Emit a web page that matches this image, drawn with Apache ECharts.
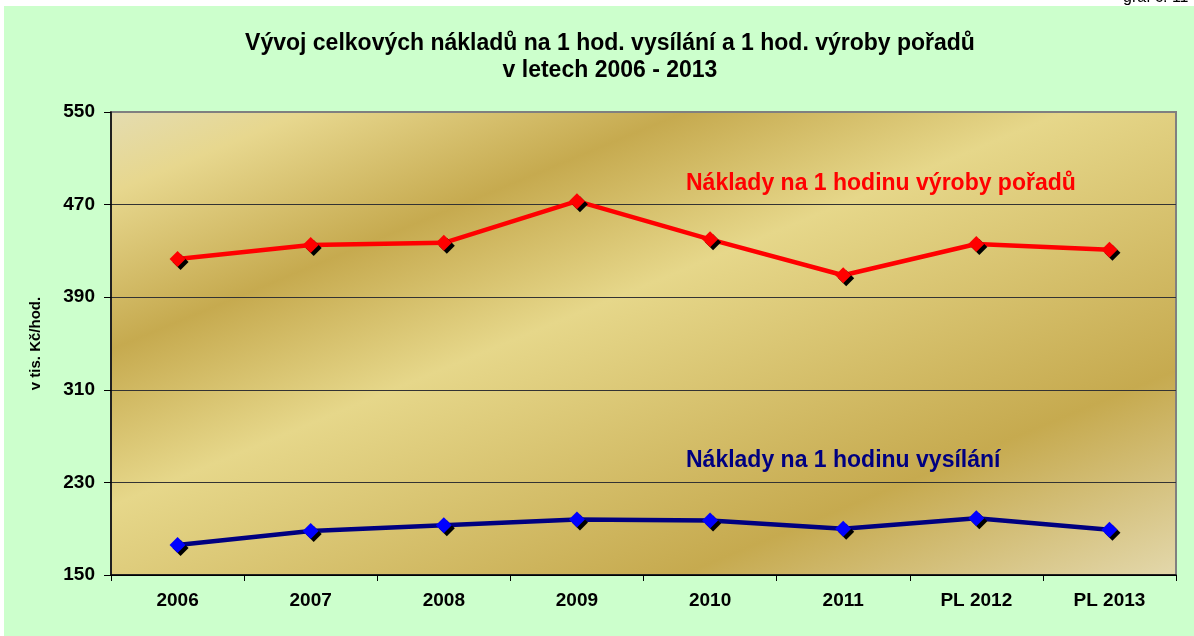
<!DOCTYPE html>
<html>
<head>
<meta charset="utf-8">
<title>Vývoj celkových nákladů</title>
<script src="https://cdn.jsdelivr.net/npm/echarts@6/dist/echarts.min.js"></script>
<style>
  html, body { margin: 0; padding: 0; background: #fff; }
  #chart { width: 1194px; height: 636px; }
</style>
</head>
<body>
<div id="chart"></div>
<script>
// data
const years = ['2006', '2007', '2008', '2009', '2010', '2011', 'PL 2012', 'PL 2013'];
const vyroba = [423, 435, 437, 473, 440, 409, 436, 431];   // náklady na 1 hodinu výroby pořadů
const vysilani = [176, 188, 193, 198, 197, 190, 199, 189]; // náklady na 1 hodinu vysílání
const yTicks = [150, 230, 310, 390, 470, 550];

const FONT = '"Liberation Sans", Arial, sans-serif';

const chart = echarts.init(document.getElementById('chart'));

// zlatý přechod pozadí grafu (diagonální pruhy)
const goldBg = new echarts.graphic.LinearGradient(111, 112, 427, 877, [
  { offset: 0, color: '#e4dcb0' },
  { offset: 0.09, color: '#e7d78e' },
  { offset: 0.265, color: '#c6aa4f' },
  { offset: 0.44, color: '#e6d78a' },
  { offset: 0.78, color: '#c6aa4f' },
  { offset: 1, color: '#e2d6a8' }
], true);

function makeSeries(name, data, lineColor, markerColor) {
  return {
    name: name,
    type: 'line',
    data: data,
    symbol: 'diamond',
    symbolSize: 16,
    z: 3,
    lineStyle: { color: lineColor, width: 4.5 },
    itemStyle: {
      color: markerColor,
      shadowColor: '#000',
      shadowOffsetX: 3,
      shadowOffsetY: 3,
      shadowBlur: 0
    },
    emphasis: { disabled: true },
    animation: false
  };
}

const option = {
  backgroundColor: '#fff',
  animation: false,
  graphic: [
    // zelená plocha
    { type: 'rect', left: 4, top: 6, shape: { width: 1190, height: 630 }, style: { fill: '#ccffcc' }, z: -10 },
    // ořezaný popisek vpravo nahoře
    { type: 'text', left: 1123, top: -10, style: { text: 'graf č. 11', font: '16px ' + FONT, fill: '#000' } },
    // popisky řad
    { type: 'text', left: 686, top: 172, z: 10,
      style: { text: 'Náklady na 1 hodinu výroby pořadů', font: 'bold 23px ' + FONT, fill: '#ff0000' } },
    { type: 'text', left: 686, top: 449, z: 10,
      style: { text: 'Náklady na 1 hodinu vysílání', font: 'bold 23px ' + FONT, fill: '#000080' } }
  ],
  title: {
    text: 'Vývoj celkových nákladů na 1 hod. vysílání a 1 hod. výroby pořadů\nv letech 2006 - 2013',
    left: 605,
    top: 25,
    textAlign: 'center',
    textStyle: { fontFamily: FONT, fontSize: 23, fontWeight: 'bold', color: '#000', lineHeight: 27 }
  },
  grid: {
    left: 111,
    right: 18,
    top: 112,
    bottom: 61,
    show: true,
    backgroundColor: goldBg,
    borderColor: '#808080',
    borderWidth: 2
  },
  xAxis: {
    type: 'category',
    data: years,
    boundaryGap: true,
    axisLine: { lineStyle: { color: '#000', width: 1.5 } },
    axisTick: { show: true, length: 6, lineStyle: { color: '#000' } },
    axisLabel: { color: '#000', fontFamily: FONT, fontSize: 19, fontWeight: 'bold', margin: 16 },
    splitLine: { show: false }
  },
  yAxis: {
    type: 'value',
    min: yTicks[0],
    max: yTicks[yTicks.length - 1],
    interval: yTicks[1] - yTicks[0],
    name: 'v tis. Kč/hod.',
    nameLocation: 'middle',
    nameGap: 68,
    nameTextStyle: { fontFamily: FONT, fontSize: 15, fontWeight: 'bold', color: '#000' },
    axisLine: { show: true, lineStyle: { color: '#000', width: 1.5 } },
    axisTick: { show: true, length: 7, lineStyle: { color: '#000' } },
    axisLabel: { color: '#000', fontFamily: FONT, fontSize: 19, fontWeight: 'bold', margin: 16 },
    splitLine: {
      show: true,
      lineStyle: { color: ['#000', '#333', '#333', '#333', '#333', '#808080'], width: 1.2 }
    }
  },
  series: [
    makeSeries('Náklady na 1 hodinu výroby pořadů', vyroba, '#ff0000', '#ff0000'),
    makeSeries('Náklady na 1 hodinu vysílání', vysilani, '#000080', '#0000ff')
  ]
};

chart.setOption(option);
</script>
</body>
</html>
